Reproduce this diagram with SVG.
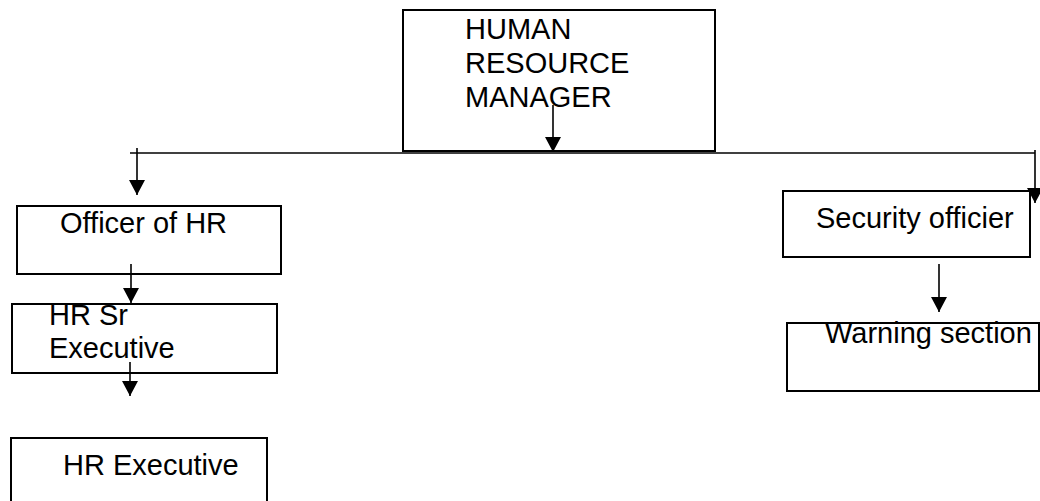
<svg xmlns="http://www.w3.org/2000/svg" width="1040" height="501" viewBox="0 0 1040 501">
<defs>
<style>
.box{fill:#fff;stroke:#000;stroke-width:2}
.t{font-family:"Liberation Sans",Arial,sans-serif;font-size:29px;fill:#000}
.c{stroke:#000;stroke-width:1.6;fill:none}
.ah{fill:#000}
</style>
<marker id="arr" markerWidth="16" markerHeight="16" refX="15" refY="8" orient="auto" markerUnits="userSpaceOnUse">
<path d="M0,0 L15,8 L0,16 Z" class="ah"/>
</marker>
</defs>
<rect width="1040" height="501" fill="#fff"/>
<g id="hrm">
<rect class="box" x="403" y="10" width="312" height="141"/>
<text class="t" x="465" y="39">HUMAN</text>
<text class="t" x="465" y="73">RESOURCE</text>
<text class="t" x="465" y="107">MANAGER</text>
</g>
<g id="officer">
<rect class="box" x="17" y="206" width="264" height="68"/>
<text class="t" x="60" y="233">Officer of HR</text>
</g>
<g id="hrsr">
<rect class="box" x="12" y="304" width="265" height="69"/>
<text class="t" x="49" y="325">HR Sr</text>
<text class="t" x="49" y="358">Executive</text>
</g>
<g id="hrexec">
<rect class="box" x="11" y="438" width="256" height="70"/>
<text class="t" x="63" y="475">HR Executive</text>
</g>
<g id="security">
<rect class="box" x="783" y="191" width="247" height="66"/>
<text class="t" x="816" y="228">Security officier</text>
</g>
<g id="warning">
<rect class="box" x="787" y="323" width="252" height="68"/>
<text class="t" x="825" y="343">Warning section</text>
</g>
<g id="connectors">
<line class="c" x1="130" y1="153" x2="1035" y2="153"/>
<line class="c" x1="553" y1="105" x2="553" y2="152" marker-end="url(#arr)"/>
<line class="c" x1="137" y1="148" x2="137" y2="195" marker-end="url(#arr)"/>
<line class="c" x1="1035" y1="150" x2="1035" y2="203" marker-end="url(#arr)"/>
<line class="c" x1="131" y1="264" x2="131" y2="303" marker-end="url(#arr)"/>
<line class="c" x1="130" y1="362" x2="130" y2="396" marker-end="url(#arr)"/>
<line class="c" x1="939" y1="264" x2="939" y2="312" marker-end="url(#arr)"/>
</g>
</svg>
